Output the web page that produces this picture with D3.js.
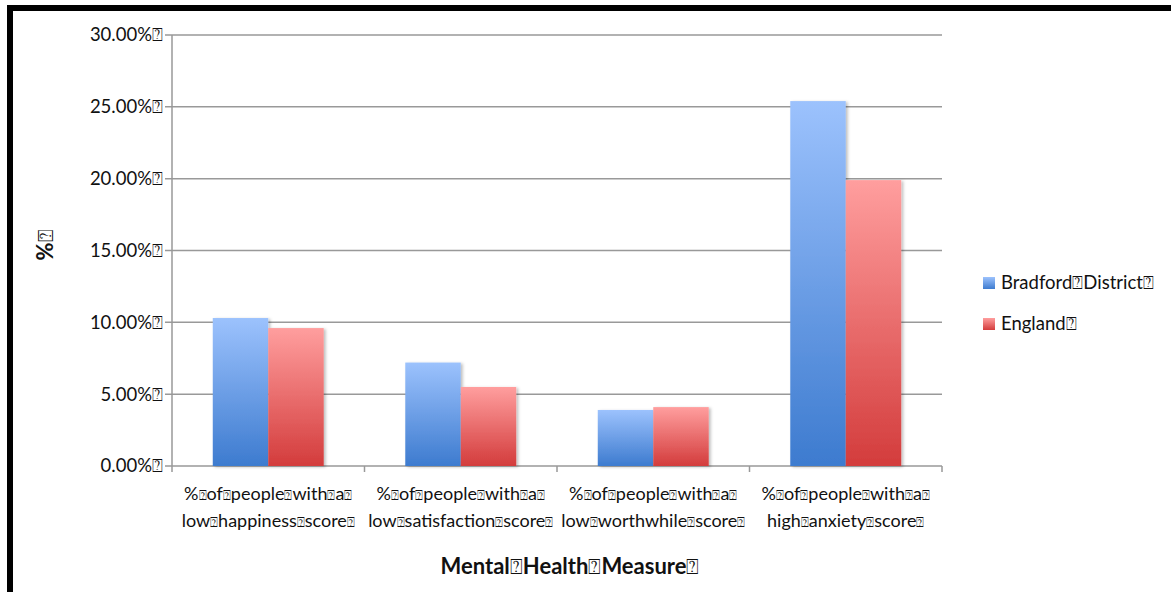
<!DOCTYPE html>
<html><head><meta charset="utf-8">
<script src="https://cdn.jsdelivr.net/npm/d3@7"></script>
<style>
html,body{margin:0;padding:0;background:#fff;overflow:hidden;}
text{font-family:Lato,"Open Sans",sans-serif;fill:#111;}
</style></head>
<body><svg id="c" width="1171" height="592"></svg>
<script>
const BOX = "\u2370";
const categories = [
  ["% of people with a", "low happiness score"],
  ["% of people with a", "low satisfaction score"],
  ["% of people with a", "low worthwhile score"],
  ["% of people with a", "high anxiety score"]
];
const seriesNames = ["Bradford District", "England"];
const bradford = [10.3, 7.2, 3.9, 25.4];
const england = [9.6, 5.5, 4.1, 19.9];
const yTicks = [0, 5, 10, 15, 20, 25, 30];
const yTitle = "%";
const xTitle = "Mental Health Measure";

const svg = d3.select("#c");
const M = {l:172, r:942, t:35, b:466};

const defs = svg.append("defs");
function grad(id, top, bot){
  const g = defs.append("linearGradient").attr("id", id).attr("x1",0).attr("y1",0).attr("x2",0).attr("y2",1);
  g.append("stop").attr("offset","0%").attr("stop-color",top);
  g.append("stop").attr("offset","100%").attr("stop-color",bot);
}
grad("gb", "#9cc2fd", "#3d7bcf");
grad("gr", "#ff9e9e", "#d33c3c");
const f = defs.append("filter").attr("id","sh").attr("x","-10%").attr("y","-5%").attr("width","130%").attr("height","115%");
f.append("feDropShadow").attr("dx",2).attr("dy",1).attr("stdDeviation",1.5).attr("flood-color","#000").attr("flood-opacity",0.25);

// frame
svg.append("rect").attr("x",10).attr("y",8).attr("width",1200).attr("height",640)
  .attr("fill","none").attr("stroke","#000").attr("stroke-width",6);

const y = d3.scaleLinear().domain([0,30]).range([M.b, M.t]);
const x0 = d3.scaleBand().domain(d3.range(categories.length)).range([M.l, M.r]).paddingInner(0).paddingOuter(0);
const x1 = d3.scaleBand().domain([0,1]).range([0, x0.bandwidth()]).paddingOuter(0.735).paddingInner(0);

function boxText(sel, str, bs){
  const parts = str.split(" ");
  parts.forEach((p,i)=>{
    sel.append("tspan").text(p);
    sel.append("tspan").attr("font-size", bs || "0.95em").attr("font-weight","normal").text(BOX);
  });
}

// gridlines
svg.append("g").selectAll("line").data(yTicks.filter(d=>d>0)).join("line")
  .attr("x1", M.l-7).attr("x2", M.r).attr("y1", d=>y(d)).attr("y2", d=>y(d))
  .attr("stroke","#999").attr("stroke-width",1.5);
svg.append("line").attr("x1",M.l).attr("x2",M.l).attr("y1",M.t).attr("y2",M.b).attr("stroke","#999").attr("stroke-width",1.5);
svg.append("line").attr("x1",M.l-7).attr("x2",M.r).attr("y1",M.b).attr("y2",M.b).attr("stroke","#999").attr("stroke-width",1.5);
svg.append("g").selectAll("line").data(d3.range(categories.length+1)).join("line")
  .attr("x1", d=> M.l + d*x0.bandwidth()).attr("x2", d=> M.l + d*x0.bandwidth())
  .attr("y1", M.b).attr("y2", M.b+6).attr("stroke","#999").attr("stroke-width",1.5);

// y tick labels
svg.append("g").selectAll("text").data(yTicks).join("text")
  .attr("x", M.l-9).attr("y", d=>y(d)).attr("dy","0.35em").attr("text-anchor","end")
  .attr("font-size",18.5)
  .each(function(d){ const t=d3.select(this); t.append("tspan").text(d.toFixed(2)+"%"); t.append("tspan").attr("font-size","0.95em").text(BOX); });

// bars
const series = [bradford, england];
const fills = ["url(#gb)","url(#gr)"];
series.forEach((vals, si)=>{
  svg.append("g").selectAll("rect").data(vals).join("rect")
    .attr("x", (d,i)=> x0(i) + x1(si))
    .attr("y", d=> y(d))
    .attr("width", x1.bandwidth())
    .attr("height", d=> y(0)-y(d))
    .attr("fill", fills[si])
    .attr("filter","url(#sh)");
});

// category labels
categories.forEach((c,i)=>{
  const cx = x0(i) + x0.bandwidth()/2;
  c.forEach((line, li)=>{
    const t = svg.append("text").attr("x", cx).attr("y", 500 + li*27).attr("text-anchor","middle").attr("font-size",18);
    boxText(t, line, "0.7em");
  });
});

// titles
const xt = svg.append("text").attr("x", 570).attr("y", 574).attr("text-anchor","middle").attr("font-size",22).attr("font-weight","bold");
boxText(xt, xTitle);
const yt = svg.append("text").attr("transform","translate(53,245) rotate(-90)").attr("text-anchor","middle").attr("font-size",22).attr("font-weight","bold");
boxText(yt, yTitle);

// legend
const lg = svg.append("g").attr("transform","translate(983,277)");
seriesNames.forEach((n,i)=>{
  const g = lg.append("g").attr("transform",`translate(0,${i*41})`);
  g.append("rect").attr("width",12).attr("height",12).attr("fill",fills[i]);
  const t = g.append("text").attr("x",18).attr("y",6).attr("dy","0.35em").attr("font-size",18.5);
  boxText(t, n);
});
</script></body></html>
